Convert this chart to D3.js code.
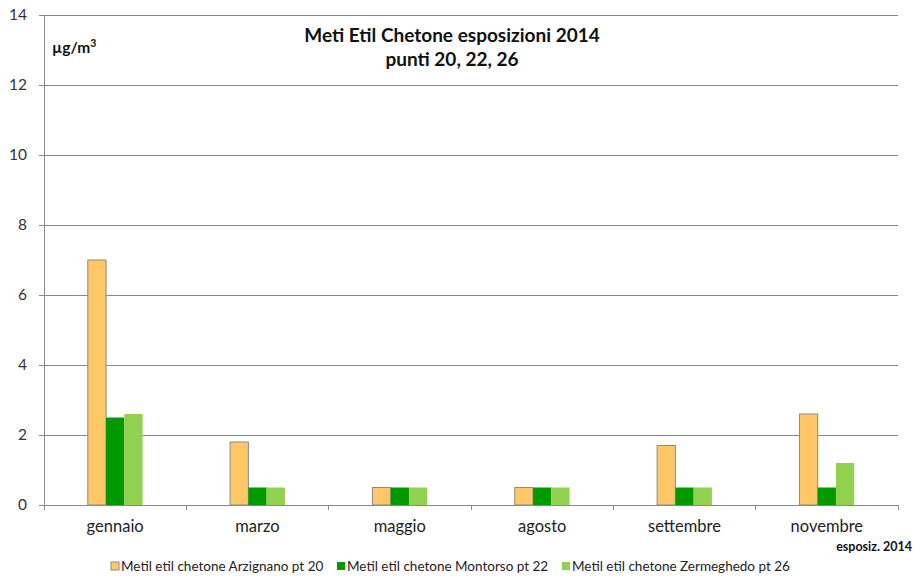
<!DOCTYPE html>
<html>
<head>
<meta charset="utf-8">
<script src="https://cdn.jsdelivr.net/npm/d3@7"></script>
<style>
  html, body { margin: 0; padding: 0; background: #fff; }
  svg { display: block; font-family: Lato, "Open Sans", sans-serif; }
</style>
</head>
<body>
<svg id="chart" width="914" height="578"></svg>
<script>
// Months sampled
const months = ["gennaio", "marzo", "maggio", "agosto", "settembre", "novembre"];
// Concentrations (µg/m³) per sampling point
const arzignano = [7.0, 1.8, 0.5, 0.5, 1.7, 2.6];
const montorso = [2.5, 0.5, 0.5, 0.5, 0.5, 0.5];
const zermeghedo = [2.6, 0.5, 0.5, 0.5, 0.5, 1.2];
const seriesNames = [
  "Metil etil chetone Arzignano pt 20",
  "Metil etil chetone Montorso pt 22",
  "Metil etil chetone Zermeghedo pt 26"
];
const yTicks = [0, 2, 4, 6, 8, 10, 12, 14];

const series = [arzignano, montorso, zermeghedo];
const colors = ["#FFC766", "#009A00", "#92D050"];
const strokes = ["#8a8a8a", "none", "none"];

const svg = d3.select("#chart");
const plotLeft = 44, plotRight = 898, plotTop = 15, plotBottom = 505;

const x = d3.scaleBand().domain(months).range([plotLeft, plotRight]).paddingInner(0).paddingOuter(0);
const y = d3.scaleLinear().domain([0, 14]).range([plotBottom, plotTop]);
const groupW = x.bandwidth() * 0.385;
const xs = d3.scaleBand().domain(d3.range(series.length)).range([0, groupW]);

// Horizontal gridlines
svg.append("g")
  .selectAll("line")
  .data(yTicks.filter(d => d > 0))
  .join("line")
  .attr("x1", plotLeft).attr("x2", plotRight)
  .attr("y1", d => y(d)).attr("y2", d => y(d))
  .attr("stroke", "#888").attr("stroke-width", 1).attr("shape-rendering", "crispEdges");

// Y axis
const yAxis = svg.append("g")
  .attr("transform", `translate(${plotLeft},0)`)
  .call(d3.axisLeft(y).tickValues(yTicks).tickSize(5).tickPadding(12).tickFormat(d3.format("d")));
yAxis.select(".domain").attr("stroke", "#888").attr("shape-rendering", "crispEdges");
yAxis.selectAll(".tick line").attr("stroke", "#888").attr("shape-rendering", "crispEdges");
yAxis.selectAll(".tick text").attr("font-size", 15.5).attr("fill", "#333").attr("font-family", "Lato, sans-serif");

// Bars
months.forEach((m, i) => {
  const g = svg.append("g")
    .attr("transform", `translate(${x(m) + (x.bandwidth() - groupW) / 2},0)`);
  series.forEach((s, k) => {
    g.append("rect")
      .attr("x", xs(k))
      .attr("y", y(s[i]))
      .attr("width", xs.bandwidth())
      .attr("height", y(0) - y(s[i]))
      .attr("fill", colors[k])
      .attr("stroke", strokes[k])
      .attr("stroke-width", 1);
  });
});

// X axis
const xAxis = svg.append("g")
  .attr("transform", `translate(0,${plotBottom})`)
  .call(d3.axisBottom(x).tickSize(0).tickPadding(15));
xAxis.select(".domain").remove();
xAxis.selectAll(".tick text").attr("font-size", 16.5).attr("fill", "#222").attr("font-family", "Lato, sans-serif");
svg.append("line")
  .attr("x1", plotLeft).attr("x2", plotRight).attr("y1", plotBottom).attr("y2", plotBottom)
  .attr("stroke", "#888").attr("shape-rendering", "crispEdges");
svg.append("g")
  .selectAll("line")
  .data(d3.range(months.length + 1))
  .join("line")
  .attr("x1", d => plotLeft + d * x.step()).attr("x2", d => plotLeft + d * x.step())
  .attr("y1", plotBottom).attr("y2", plotBottom + 5)
  .attr("stroke", "#888").attr("shape-rendering", "crispEdges");

// Title
const title = svg.append("text")
  .attr("x", 452).attr("y", 42)
  .attr("text-anchor", "middle")
  .attr("font-size", 19).attr("font-weight", "bold").attr("fill", "#111");
title.append("tspan").attr("x", 452).text("Meti Etil Chetone esposizioni 2014");
title.append("tspan").attr("x", 452).attr("dy", 24).text("punti 20, 22, 26");

// Unit label
const unit = svg.append("text")
  .attr("x", 52).attr("y", 53)
  .attr("font-size", 15.5).attr("font-weight", "bold").attr("fill", "#111");
unit.append("tspan").text("µg/m");
unit.append("tspan").attr("dy", -6).attr("font-size", 10.5).text("3");

// Footnote
svg.append("text")
  .attr("x", 912).attr("y", 551)
  .attr("text-anchor", "end")
  .attr("font-size", 12.5).attr("font-weight", "bold").attr("fill", "#111")
  .text("esposiz. 2014");

// Legend
const legendX = [111, 337, 562];
const legend = svg.append("g");
seriesNames.forEach((name, k) => {
  legend.append("rect")
    .attr("x", legendX[k]).attr("y", 562)
    .attr("width", 8).attr("height", 8)
    .attr("fill", colors[k])
    .attr("stroke", k === 0 ? "#8a8a8a" : "none");
  legend.append("text")
    .attr("x", legendX[k] + 10).attr("y", 571)
    .attr("font-size", 13.5).attr("fill", "#222")
    .text(name);
});
</script>
</body>
</html>
